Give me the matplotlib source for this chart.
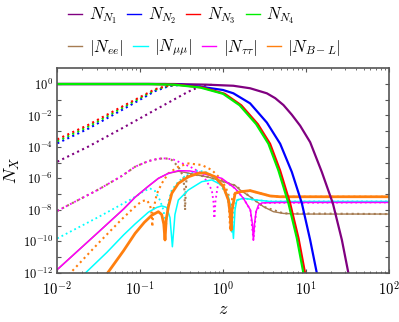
import numpy as np
import matplotlib
matplotlib.use("Agg")
import matplotlib.pyplot as plt

plt.rcParams["mathtext.fontset"] = "cm"
plt.rcParams["font.family"] = "serif"

# all values as log10(z), log10(N)
n1_lz = [-2, -0.6, -0.2, 0.125, 0.327, 0.529, 0.63, 0.73, 0.83, 0.931, 1.052, 1.193, 1.326, 1.435, 1.514]
n1_ly = [0, 0, -0.04, -0.11, -0.27, -0.59, -0.9, -1.34, -1.95, -2.65, -3.7, -5.6, -7.59, -9.92, -12.04]
n2_lz = [-2, -0.7, -0.5, -0.277, 0.0, 0.125, 0.327, 0.529, 0.69, 0.831, 0.952, 1.052, 1.133]
n2_ly = [0, 0, -0.04, -0.17, -0.38, -0.59, -1.23, -2.45, -3.8, -5.6, -7.59, -9.92, -12.04]
n3_lz = [-2, -0.85, -0.55, -0.25, 0.02, 0.22, 0.42, 0.568, 0.689, 0.81, 0.911, 0.991]
n3_ly = [0, 0, -0.04, -0.22, -0.62, -1.35, -2.55, -3.8, -5.5, -7.59, -9.8, -12.04]
n4_lz = [-2, -0.9, -0.6, -0.277, 0.0, 0.2, 0.4, 0.548, 0.669, 0.79, 0.891, 0.971]
n4_ly = [0, 0, -0.04, -0.22, -0.62, -1.35, -2.55, -3.8, -5.5, -7.59, -9.8, -12.04]

# N_N starting from zero abundance (dotted)
n1d_lz = [-2, -1.63, -1.22, -0.82, -0.42, -0.26, -0.1]
n1d_ly = [-4.94, -3.99, -2.82, -1.65, -0.49, -0.12, -0.03]
n2d_lz = [-2, -1.63, -1.22, -0.82, -0.65, -0.5]
n2d_ly = [-3.77, -2.85, -1.65, -0.45, -0.13, -0.04]
n3d_lz = [-2, -1.63, -1.22, -0.82, -0.65, -0.5]
n3d_ly = [-3.52, -2.61, -1.44, -0.33, -0.08, -0.03]
n4d_lz = [-2, -1.63, -1.22, -0.82, -0.65, -0.5]
n4d_ly = [-3.64, -2.72, -1.53, -0.38, -0.1, -0.05]

# flavour asymmetries, solid
tt_lz = [-2, -1.5, -1.2, -1.061, -0.901, -0.78, -0.659, -0.539, -0.4, -0.256, -0.014, 0.146,
         0.246, 0.33, 0.355, 0.367, 0.38, 0.40, 0.428, 0.47, 0.69, 2]
tt_ly = [-11.8, -9.4, -7.95, -7.2, -6.5, -6.0, -5.68, -5.51, -5.53, -5.68, -6.0, -6.64,
         -7.27, -8.0, -8.9, -9.92, -8.9, -8.1, -7.7, -7.56, -7.53, -7.53]
ee_lz = [-2, -1.5, -1.2, -1.061, -0.901, -0.78, -0.659, -0.539, -0.458, -0.3, -0.176, 0.0,
         0.146, 0.207, 0.327, 0.488, 0.609, 0.73, 0.9, 2]
ee_ly = [-11.8, -9.4, -7.95, -7.2, -6.5, -6.0, -5.68, -5.55, -5.62, -5.8, -5.92, -6.2,
         -6.45, -6.74, -7.17, -7.8, -8.12, -8.23, -8.27, -8.27]
mm_lz = [-1.75, -1.665, -1.4, -1.2, -1.061, -0.9, -0.8, -0.739, -0.68, -0.64, -0.611, -0.58,
         -0.539, -0.418, -0.256, -0.135, -0.014, 0.065, 0.1, 0.126, 0.145, 0.167, 0.246,
         0.408, 0.569, 2]
mm_ly = [-12.5, -12.04, -10.7, -9.6, -8.9, -8.15, -7.85, -7.75, -7.85, -8.5, -10.35, -8.3,
         -7.38, -6.74, -6.21, -6.1, -6.43, -7.17, -8.0, -9.82, -8.0, -7.38, -7.27,
         -7.38, -7.47, -7.47]
bl_lz = [-1.5, -1.396, -1.2, -1.061, -0.95, -0.86, -0.78, -0.74, -0.715, -0.70, -0.685,
         -0.659, -0.618, -0.539, -0.418, -0.297, -0.216, -0.095, 0.005, 0.065, 0.085,
         0.098, 0.11, 0.146, 0.207, 0.327, 0.448, 0.569, 0.69, 2]
bl_ly = [-12.8, -12.04, -10.6, -9.5, -8.8, -8.35, -8.12, -8.3, -8.9, -9.92, -8.6,
         -7.8, -6.95, -6.32, -5.9, -5.68, -5.64, -5.9, -6.53, -7.38, -8.2,
         -9.29, -8.0, -6.95, -6.85, -6.78, -6.95, -7.12, -7.17, -7.17]

# flavour asymmetries, dotted
ttd_lz = [-2, -1.5, -1.222, -1.061, -0.9, -0.78, -0.699, -0.6, -0.539, -0.4, -0.256, -0.135,
          -0.115, -0.104, -0.09, -0.056, 0.0, 0.146, 0.246, 0.33, 0.367, 0.40, 0.47, 2]
ttd_ly = [-8.07, -6.7, -5.85, -5.26, -4.9, -4.75, -4.73, -4.8, -4.94, -5.25, -5.68, -6.74,
          -7.5, -8.54, -7.4, -6.21, -6.1, -6.64, -7.27, -8.0, -9.92, -8.1, -7.56, -7.53]
eed_lz = [-2, -1.5, -1.222, -1.061, -0.9, -0.78, -0.699, -0.65, -0.618, -0.539, -0.478,
          -0.465, -0.458, -0.45, -0.44, -0.42, -0.3, -0.176, 0.0, 0.146, 0.327, 0.488,
          0.73, 2]
eed_ly = [-8.07, -6.7, -5.85, -5.26, -4.9, -4.75, -4.73, -4.76, -4.83, -5.26, -5.9,
          -6.8, -8.02, -6.8, -6.0, -5.7, -5.8, -5.92, -6.2, -6.45, -7.17, -7.8,
          -8.23, -8.27]
mmd_lz = [-2, -1.5, -1.1, -0.95, -0.88, -0.82, -0.76, -0.72, -0.687, -0.66, -0.618, -0.539,
          -0.418, -0.3, -0.176, -0.056, 0.046, 0.08, 0.106, 0.13, 0.167, 0.246, 0.408,
          0.569, 2]
mmd_ly = [-9.82, -8.45, -7.3, -6.8, -6.65, -6.8, -7.4, -8.0, -9.0, -7.5, -6.74, -6.21,
          -5.68, -5.5, -5.65, -6.21, -7.06, -8.0, -9.5, -7.9, -7.38, -7.27, -7.38,
          -7.47, -7.47]
bld_lz = [-2, -1.846, -1.5, -1.222, -1.061, -0.98, -0.92, -0.88, -0.86, -0.853, -0.84, -0.8,
          -0.739, -0.659, -0.539, -0.418, -0.256, -0.135, -0.014, 0.065, 0.086, 0.11,
          0.146, 0.207, 0.327, 0.448, 0.569, 0.69, 2]
bld_ly = [-12.9, -12.04, -10.1, -8.6, -7.8, -7.45, -7.38, -7.7, -8.3, -9.08, -8.0, -7.0,
          -6.32, -5.68, -5.26, -5.05, -5.15, -5.47, -6.1, -6.95, -9.29, -7.3,
          -6.95, -6.85, -6.78, -6.95, -7.12, -7.17, -7.17]

c_purple = "#800080"
c_blue = "#0000ff"
c_red = "#ff0000"
c_green = "#00ee00"
c_brown = "#a67c52"
c_cyan = "#00ffff"
c_magenta = "#ff00ff"
c_orange = "#ff7f0e"


def p(lz, ly):
    return 10.0 ** np.array(lz), 10.0 ** np.array(ly)


fig = plt.figure(figsize=(3.99, 3.22), dpi=100)
ax = fig.add_axes([0.1436, 0.1531, 0.8306, 0.6348])

# asymmetries, dotted
ax.plot(*p(eed_lz, eed_ly), color=c_brown, lw=1.5, ls=":")
ax.plot(*p(mmd_lz, mmd_ly), color=c_cyan, lw=1.3, ls=":")
ax.plot(*p(ttd_lz, ttd_ly), color=c_magenta, lw=1.3, ls=":")
ax.plot(*p(bld_lz, bld_ly), color=c_orange, lw=1.5, ls=":")

# asymmetries, solid
ee_line, = ax.plot(*p(ee_lz, ee_ly), color=c_brown, lw=1.0)
mm_line, = ax.plot(*p(mm_lz, mm_ly), color=c_cyan, lw=1.1)
tt_line, = ax.plot(*p(tt_lz, tt_ly), color=c_magenta, lw=1.1)
bl_line, = ax.plot(*p(bl_lz, bl_ly), color=c_orange, lw=2.0)

# heavy neutrinos
ax.plot(*p(n1d_lz, n1d_ly), color=c_purple, lw=1.5, ls=":")
ax.plot(*p(n2d_lz, n2d_ly), color=c_blue, lw=1.5, ls=":")
ax.plot(*p(n4d_lz, n4d_ly), color=c_green, lw=1.5, ls=":")
ax.plot(*p(n3d_lz, n3d_ly), color=c_red, lw=1.5, ls=":")
n1_line, = ax.plot(*p(n1_lz, n1_ly), color=c_purple, lw=1.6)
n2_line, = ax.plot(*p(n2_lz, n2_ly), color=c_blue, lw=1.6)
n3_line, = ax.plot(*p(n3_lz, n3_ly), color=c_red, lw=1.6)
n4_line, = ax.plot(*p(n4_lz, n4_ly), color=c_green, lw=1.6)

ax.set_xscale("log")
ax.set_yscale("log")
ax.set_xlim(1e-2, 1e2)
ax.set_ylim(1e-12, 1e1)

ax.set_yticks([10.0 ** k for k in range(-12, 1)])
ax.set_yticklabels([r"$10^{%d}$" % k if k % 2 == 0 else "" for k in range(-12, 1)])
ax.set_xticks([1e-2, 1e-1, 1e0, 1e1, 1e2])
ax.set_xticklabels([r"$10^{-2}$", r"$10^{-1}$", r"$10^{0}$", r"$10^{1}$", r"$10^{2}$"])
ax.tick_params(which="both", direction="in", top=True, right=True, color="#555555")
ax.tick_params(axis="x", labelsize=10.5, pad=5)
ax.tick_params(axis="y", labelsize=9, pad=3)
ax.tick_params(which="major", length=3)
ax.tick_params(which="minor", length=1.5)
ax.yaxis.set_minor_locator(matplotlib.ticker.NullLocator())
for s in ax.spines.values():
    s.set_color("#555555")
    s.set_linewidth(1.2)

ax.set_xlabel(r"$z$", fontsize=13, labelpad=2)
ax.set_ylabel(r"$N_X$", fontsize=13)
ax.yaxis.set_label_coords(-0.105, 0.5)

leg_kw = dict(loc="center left", ncol=4, frameon=False, fontsize=12, handlelength=0.85,
              handletextpad=0.4, columnspacing=0.6, borderpad=0, borderaxespad=0)
leg1 = fig.legend([n1_line, n2_line, n3_line, n4_line],
                  [r"$N_{N_1}$", r"$N_{N_2}$", r"$N_{N_3}$", r"$N_{N_4}$"],
                  bbox_to_anchor=(68 / 399, 1 - 16 / 322), **leg_kw)
leg2 = fig.legend([ee_line, mm_line, tt_line, bl_line],
                  [r"$|N_{ee}|$", r"$|N_{\mu\mu}|$", r"$|N_{\tau\tau}|$", r"$|N_{B-L}|$"],
                  bbox_to_anchor=(68 / 399, 1 - 48 / 322), **leg_kw)
for lg in (leg1, leg2):
    for h in lg.legend_handles:
        h.set_linewidth(1.0)

fig.savefig("out.png", dpi=100)
